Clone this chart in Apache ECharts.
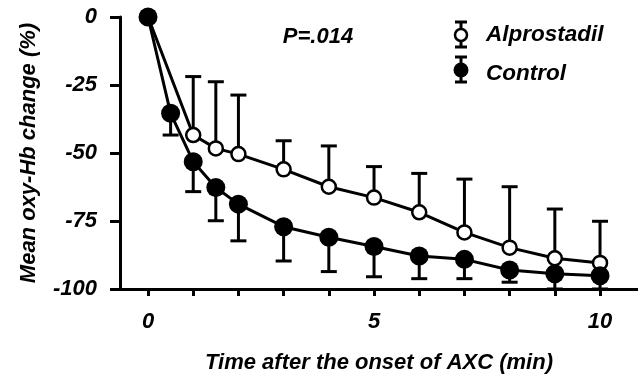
<!DOCTYPE html>
<html>
<head>
<meta charset="utf-8">
<script src="https://cdn.jsdelivr.net/npm/echarts@6/dist/echarts.min.js"></script>
<style>html,body{margin:0;padding:0;background:#fff}#c{width:638px;height:375px}</style>
</head>
<body>
<div id="c"></div>
<script>
// Data
const alproTime = [0, 1, 1.5, 2, 3, 4, 5, 6, 7, 8, 9, 10];
const alproMean = [0, -43.4, -48.3, -50.4, -56, -62.4, -66.4, -71.8, -79.2, -84.8, -88.7, -90.4];
const alproErr  = [0, 21.5, 24.5, 21.7, 10.5, 15, 11.4, 14.3, 19.6, 22.4, 18.1, 15.3];
const ctrlTime  = [0, 0.5, 1, 1.5, 2, 3, 4, 5, 6, 7, 8, 9, 10];
const ctrlMean  = [0, -35.4, -53.2, -62.7, -68.8, -77.1, -81, -84.4, -87.9, -89.1, -93, -94.4, -95.1];
const ctrlErr   = [0, 8, 11, 12.2, 13.5, 12.6, 12.6, 11.1, 8.3, 7.1, 4.5, 5.6, 4.9];
const xTickValues = [0, 1, 2, 3, 4, 5, 6, 7, 8, 9, 10];
const xLabelValues = [0, 5, 10];
const yTicks = [0, -25, -50, -75, -100];
const seriesNames = ['Alprostadil', 'Control'];
const pText = 'P=.014';
const xTitle = 'Time after the onset of AXC (min)';
const yTitle = 'Mean oxy-Hb change (%)';

const FONT = '"Liberation Sans", Arial, Helvetica, sans-serif';
const txt = {fontFamily: FONT, fontWeight: 'bold', fontStyle: 'italic', color: '#000'};

function errData(t, m, e, dir) {
  return t.map((x, i) => [x, m[i], e[i], dir]);
}
function errRender(params, api) {
  const x = api.value(0), m = api.value(1), e = api.value(2), dir = api.value(3);
  if (!e) return null;
  const p0 = api.coord([x, m]);
  const p1 = api.coord([x, m + dir * e]);
  const st = {stroke: '#000', lineWidth: 3, fill: null};
  return {
    type: 'group',
    children: [
      {type: 'line', shape: {x1: p0[0], y1: p0[1], x2: p1[0], y2: p1[1]}, style: st},
      {type: 'line', shape: {x1: p1[0] - 8, y1: p1[1], x2: p1[0] + 8, y2: p1[1]}, style: st}
    ]
  };
}

const chart = echarts.init(document.getElementById('c'), null, {renderer: 'canvas'});
const legendX = 461;
chart.setOption({
  animation: false,
  backgroundColor: '#fff',
  grid: {left: 120, right: 0, top: 17, bottom: 86, containLabel: false, outerBoundsMode: 'none'},
  xAxis: {
    type: 'value', min: -0.62, max: 10.84,
    name: xTitle, nameLocation: 'middle', nameGap: 63,
    nameTextStyle: Object.assign({fontSize: 22}, txt),
    axisLine: {onZero: false, lineStyle: {color: '#000', width: 3}},
    axisTick: {show: true, length: 7, lineStyle: {color: '#000', width: 3}, customValues: xTickValues},
    axisLabel: Object.assign({fontSize: 22, margin: 22, customValues: xLabelValues}, txt),
    splitLine: {show: false}
  },
  yAxis: {
    type: 'value', min: -100, max: 0, interval: 25,
    name: yTitle, nameLocation: 'middle', nameGap: 80,
    nameTextStyle: Object.assign({fontSize: 22}, txt),
    axisLine: {show: true, onZero: false, lineStyle: {color: '#000', width: 3}},
    axisTick: {show: true, length: 10, lineStyle: {color: '#000', width: 3}, customValues: yTicks},
    axisLabel: Object.assign({fontSize: 22, margin: 23, customValues: yTicks}, txt),
    splitLine: {show: false}
  },
  series: [
    {
      type: 'custom', name: seriesNames[0] + ' SD', renderItem: errRender, clip: false,
      data: errData(alproTime, alproMean, alproErr, 1), z: 1
    },
    {
      type: 'custom', name: seriesNames[1] + ' SD', renderItem: errRender, clip: false,
      data: errData(ctrlTime, ctrlMean, ctrlErr, -1), z: 1
    },
    {
      type: 'line', name: seriesNames[0], clip: false,
      data: alproTime.map((x, i) => [x, alproMean[i]]),
      symbol: 'circle', symbolSize: 14, showAllSymbol: true,
      lineStyle: {color: '#000', width: 3},
      itemStyle: {color: '#fff', borderColor: '#000', borderWidth: 2.5},
      z: 2
    },
    {
      type: 'line', name: seriesNames[1], clip: false,
      data: ctrlTime.map((x, i) => [x, ctrlMean[i]]),
      symbol: 'circle', symbolSize: 19, showAllSymbol: true,
      lineStyle: {color: '#000', width: 3},
      itemStyle: {color: '#000', borderColor: '#000', borderWidth: 0},
      z: 3
    }
  ],
  graphic: [
    {type: 'text', x: 318, y: 37, style: {text: pText, font: 'italic bold 22px ' + FONT, fill: '#000', align: 'center', verticalAlign: 'middle'}},
    // legend: Alprostadil
    {type: 'line', shape: {x1: legendX, y1: 22, x2: legendX, y2: 47}, style: {stroke: '#000', lineWidth: 3}},
    {type: 'line', shape: {x1: legendX - 6, y1: 22, x2: legendX + 6, y2: 22}, style: {stroke: '#000', lineWidth: 3}},
    {type: 'line', shape: {x1: legendX - 6, y1: 47, x2: legendX + 6, y2: 47}, style: {stroke: '#000', lineWidth: 3}},
    {type: 'circle', shape: {cx: legendX, cy: 35, r: 6}, style: {fill: '#fff', stroke: '#000', lineWidth: 2.5}},
    {type: 'text', x: 486, y: 35, style: {text: seriesNames[0], font: 'italic bold 22.5px ' + FONT, fill: '#000', align: 'left', verticalAlign: 'middle'}},
    // legend: Control
    {type: 'line', shape: {x1: legendX, y1: 57, x2: legendX, y2: 82}, style: {stroke: '#000', lineWidth: 3}},
    {type: 'line', shape: {x1: legendX - 6, y1: 57, x2: legendX + 6, y2: 57}, style: {stroke: '#000', lineWidth: 3}},
    {type: 'line', shape: {x1: legendX - 6, y1: 82, x2: legendX + 6, y2: 82}, style: {stroke: '#000', lineWidth: 3}},
    {type: 'circle', shape: {cx: legendX, cy: 70, r: 7.5}, style: {fill: '#000', stroke: '#000', lineWidth: 0}},
    {type: 'text', x: 486, y: 74, style: {text: seriesNames[1], font: 'italic bold 22.5px ' + FONT, fill: '#000', align: 'left', verticalAlign: 'middle'}}
  ]
});
</script>
</body>
</html>
